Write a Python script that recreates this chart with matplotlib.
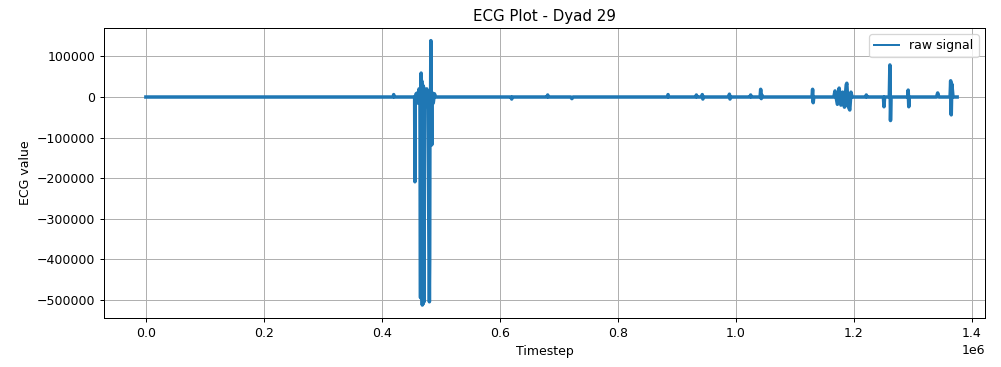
import matplotlib
matplotlib.use("Agg")
import matplotlib.pyplot as plt

# key samples of the raw ECG trace: timestep / value pairs, one event per line
timestep = [
    0, 100e3, 200e3, 300e3, 405e3,
    419e3, 420e3, 421e3, 450e3,
    # artefact burst around 0.46-0.49e6
    455.5e3, 456e3, 456.5e3, 458e3, 460e3, 461e3, 463e3, 464.5e3,
    465.5e3, 466e3, 466.5e3, 467e3, 467.5e3, 468.5e3, 469e3, 470e3,
    470.5e3, 471.5e3, 472e3, 473e3, 476e3, 478e3, 480.5e3, 481e3,
    481.5e3, 482.5e3, 483e3, 483.5e3, 484.5e3, 485.5e3, 487e3, 489e3, 491e3,
    # quiet middle section
    560e3, 619e3, 620e3, 621e3,
    680e3, 681e3, 682e3,
    720e3, 722e3, 724e3,
    800e3, 884e3, 885e3, 886e3,
    932e3, 933e3, 934e3,
    942e3, 943e3, 944e3, 945e3,
    988e3, 989e3, 990e3, 991e3,
    1024e3, 1025e3, 1026e3,
    1041e3, 1042e3, 1043e3, 1044e3, 1046e3,
    1100e3, 1129e3, 1130e3, 1131e3, 1132e3, 1150e3,
    # later bursts
    1166e3, 1168e3, 1172e3, 1175e3, 1178e3, 1181e3, 1184e3, 1187e3,
    1188e3, 1190e3, 1193e3, 1195e3, 1197e3,
    1220e3, 1221e3, 1222e3,
    1250e3, 1251e3, 1252e3,
    1260e3, 1261e3, 1262e3, 1263e3,
    1291e3, 1292e3, 1293e3, 1294e3,
    1340e3, 1342e3, 1344e3,
    1363e3, 1364e3, 1365e3, 1366e3, 1368e3, 1375e3,
]
ecg_value = [
    0, 0, 0, 0, 0,
    0, 6e3, 0, 0,
    # artefact burst
    0, -209e3, 0, 8e3, 10e3, -15e3, 20e3, 0,
    -495e3, 38e3, 59e3, -20e3, 40e3, -513e3, 30e3, -510e3,
    25e3, -505e3, 10e3, -12e3, 20e3, -30e3, -505e3, -402e3,
    15e3, -10e3, 139e3, 0, -118e3, 10e3, -15e3, 8e3, 0,
    # quiet middle section
    0, 0, -5e3, 0,
    0, 5e3, 0,
    0, -4e3, 0,
    0, 0, 6e3, 0,
    0, 5e3, 0,
    0, 6e3, -5e3, 0,
    0, 7e3, -5e3, 0,
    0, 5e3, 0,
    0, 19e3, -4e3, 5e3, 0,
    0, 0, 19e3, -14e3, 0, 0,
    # later bursts
    0, 15e3, -18e3, 22e3, -20e3, 12e3, -25e3, 30e3,
    34e3, -22e3, -32e3, 12e3, 0,
    0, 5e3, 0,
    0, -24e3, 0,
    0, 79e3, -58e3, 0,
    0, 17e3, -24e3, 0,
    0, 10e3, 0,
    0, 40e3, -44e3, 32e3, 0, 0,
]

fig = plt.figure(figsize=(1001 / 90, 367 / 90), dpi=90)
ax = fig.add_axes([0.1039, 0.1335, 0.880, 0.790])

ax.plot(timestep, ecg_value, color="#1f77b4", linewidth=2.8, label="raw signal")
ax.set_title("ECG Plot - Dyad 29")
ax.set_xlabel("Timestep")
ax.set_ylabel("ECG value")
ax.set_xlim(-71e3, 1.422e6)
ax.set_ylim(-545e3, 170e3)
ax.set_xticks([0, 0.2e6, 0.4e6, 0.6e6, 0.8e6, 1.0e6, 1.2e6, 1.4e6])
ax.set_yticks([-500000, -400000, -300000, -200000, -100000, 0, 100000])
ax.grid(True)
leg = ax.legend(loc="upper right")
leg.get_lines()[0].set_linewidth(1.6)

fig.savefig("out.png", dpi=90)
